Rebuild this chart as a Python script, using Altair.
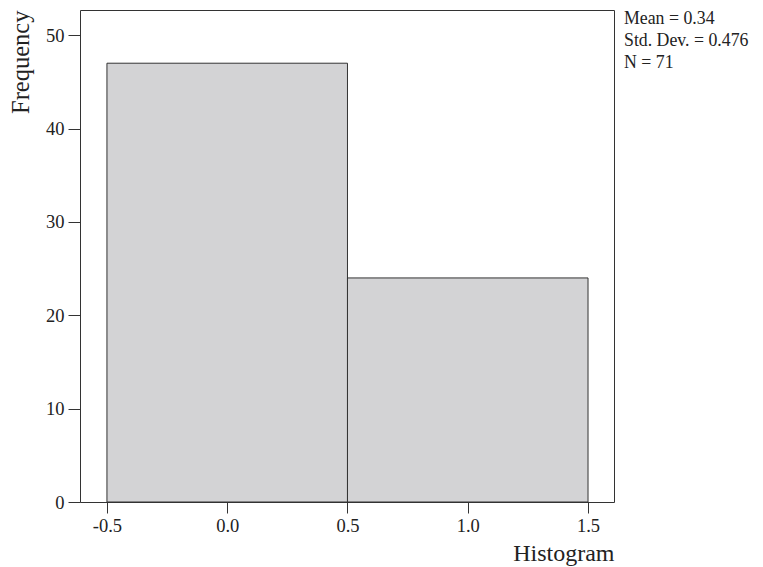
import altair as alt
import pandas as pd

bin_start = [-0.5, 0.5]
bin_end = [0.5, 1.5]
counts = [47, 24]
x_ticks = [-0.5, 0.0, 0.5, 1.0, 1.5]
y_ticks = [0, 10, 20, 30, 40, 50]
stats_lines = ["Mean = 0.34", "Std. Dev. = 0.476", "N = 71"]

df = pd.DataFrame({"start": bin_start, "end": bin_end, "count": counts})

FONT = "Liberation Serif"
W, H = 534, 492

bars = alt.Chart(df).mark_rect(fill="#d3d3d5", stroke="#333333", strokeWidth=1).encode(
    x=alt.X("start:Q",
            scale=alt.Scale(domain=[-0.612, 1.608], nice=False, zero=False),
            axis=alt.Axis(values=x_ticks, title="Histogram",
                          labelExpr="(datum.value < 0 ? '-' : '') + format(abs(datum.value), '.1f')",
                          domain=False, grid=False, tickSize=11, tickColor="#333333",
                          labelPadding=3, labelFont=FONT, labelFontSize=18.5,
                          labelColor="#222222", labelFlush=False,
                          titleFont=FONT, titleFontSize=24, titleFontWeight="normal",
                          titleColor="#222222", titleAnchor="end", titleAlign="right",
                          titleBaseline="alphabetic", titleX=W, titleY=58)),
    x2="end:Q",
    y=alt.Y("count:Q",
            scale=alt.Scale(domain=[0, 52.7], nice=False),
            axis=alt.Axis(values=y_ticks, title="Frequency",
                          domain=False, grid=False, tickSize=12, tickColor="#333333",
                          labelPadding=4, labelFont=FONT, labelFontSize=18.5,
                          labelColor="#222222",
                          titleFont=FONT, titleFontSize=24.5, titleFontWeight="normal",
                          titleColor="#222222", titleAngle=-90, titleAlign="right",
                          titleBaseline="alphabetic", titleX=-52, titleY=0)),
)

stats = alt.Chart(pd.DataFrame({"a": [0]})).mark_text(
    text=stats_lines, align="left", baseline="top", font=FONT, fontSize=17.8,
    lineHeight=22, color="#222222"
).encode(x=alt.value(W + 10), y=alt.value(0))

chart = alt.layer(bars, stats).properties(
    width=W, height=H,
    background="white",
    autosize=alt.AutoSizeParams(type="none"),
    padding={"left": 72, "top": 2, "right": 141, "bottom": 65},
).configure_view(stroke="#333333", strokeWidth=1)

chart.save("out.html", embed_options={"renderer": "svg", "actions": False})
